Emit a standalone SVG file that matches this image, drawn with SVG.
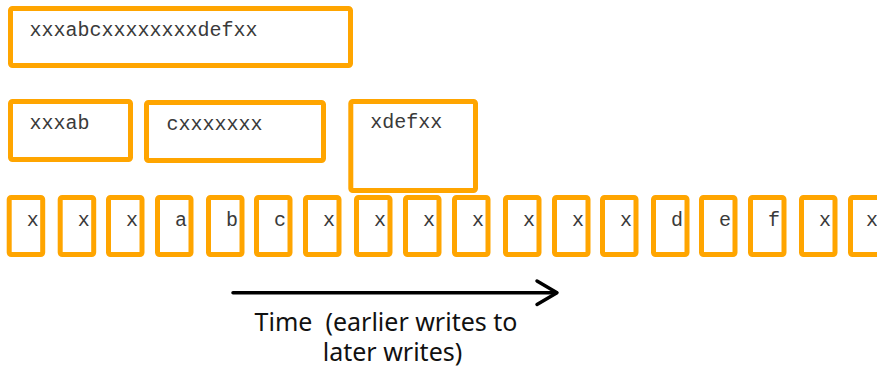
<svg xmlns="http://www.w3.org/2000/svg" width="877" height="366" viewBox="0 0 877 366">
  <style>
    .box { fill: #ffffff; stroke: #ffa500; stroke-width: 5; }
    .mono { font-family: "Liberation Mono", "Courier New", monospace; font-size: 20px; fill: #3a3a3a; }
    .cap { font-family: "Noto Sans", "Open Sans", sans-serif; font-size: 25px; fill: #111111; text-anchor: middle; white-space: pre; }
    .arrow { fill: none; stroke: #000000; stroke-width: 3.5; stroke-linecap: round; stroke-linejoin: round; }
  </style>
  <rect width="877" height="366" fill="#ffffff"/>

  <!-- whole write -->
  <g id="write-all">
    <rect class="box" x="10.5" y="8.5" width="340" height="57" rx="2"/>
    <text class="mono" x="29.5" y="36">xxxabcxxxxxxxxdefxx</text>
  </g>

  <!-- partial writes -->
  <g id="write-1">
    <rect class="box" x="10.5" y="101.5" width="120" height="58" rx="2"/>
    <text class="mono" x="29.5" y="129">xxxab</text>
  </g>
  <g id="write-2">
    <rect class="box" x="146.5" y="102.5" width="177" height="58" rx="2"/>
    <text class="mono" x="166.5" y="130">cxxxxxxx</text>
  </g>
  <g id="write-3">
    <rect class="box" x="350.8" y="101.5" width="124.7" height="89" rx="2"/>
    <text class="mono" x="370.2" y="128">xdefxx</text>
  </g>

  <!-- single-byte writes -->
  <g id="b1"><rect class="box" x="9.2" y="197.5" width="33.5" height="57" rx="2"/><text class="mono" x="26.7" y="225.7">x</text></g>
  <g id="b2"><rect class="box" x="60.2" y="197.5" width="33.5" height="57" rx="2"/><text class="mono" x="77.7" y="225.7">x</text></g>
  <g id="b3"><rect class="box" x="108.5" y="197.5" width="33.5" height="57" rx="2"/><text class="mono" x="126" y="225.7">x</text></g>
  <g id="b4"><rect class="box" x="157.5" y="197.5" width="33.5" height="57" rx="2"/><text class="mono" x="175" y="225.7">a</text></g>
  <g id="b5"><rect class="box" x="208.5" y="197.5" width="33.5" height="57" rx="2"/><text class="mono" x="226" y="225.7">b</text></g>
  <g id="b6"><rect class="box" x="256.5" y="197.5" width="33.5" height="57" rx="2"/><text class="mono" x="274" y="225.7">c</text></g>
  <g id="b7"><rect class="box" x="305.5" y="197.5" width="33.5" height="57" rx="2"/><text class="mono" x="323" y="225.7">x</text></g>
  <g id="b8"><rect class="box" x="356.5" y="197.5" width="33.5" height="57" rx="2"/><text class="mono" x="374" y="225.7">x</text></g>
  <g id="b9"><rect class="box" x="405.5" y="197.5" width="33.5" height="57" rx="2"/><text class="mono" x="423" y="225.7">x</text></g>
  <g id="b10"><rect class="box" x="454.5" y="197.5" width="33.5" height="57" rx="2"/><text class="mono" x="472" y="225.7">x</text></g>
  <g id="b11"><rect class="box" x="505.5" y="197.5" width="33.5" height="57" rx="2"/><text class="mono" x="523" y="225.7">x</text></g>
  <g id="b12"><rect class="box" x="554.5" y="197.5" width="33.5" height="57" rx="2"/><text class="mono" x="572" y="225.7">x</text></g>
  <g id="b13"><rect class="box" x="602.5" y="197.5" width="33.5" height="57" rx="2"/><text class="mono" x="620" y="225.7">x</text></g>
  <g id="b14"><rect class="box" x="653.5" y="197.5" width="33.5" height="57" rx="2"/><text class="mono" x="671" y="225.7">d</text></g>
  <g id="b15"><rect class="box" x="701.5" y="197.5" width="33.5" height="57" rx="2"/><text class="mono" x="719" y="225.7">e</text></g>
  <g id="b16"><rect class="box" x="750.5" y="197.5" width="33.5" height="57" rx="2"/><text class="mono" x="768" y="225.7">f</text></g>
  <g id="b17"><rect class="box" x="801.5" y="197.5" width="33.5" height="57" rx="2"/><text class="mono" x="819" y="225.7">x</text></g>
  <g id="b18"><rect class="box" x="850.5" y="197.5" width="33.5" height="57" rx="2"/><text class="mono" x="866" y="225.7">x</text></g>

  <!-- time axis -->
  <g id="connectors">
    <path class="arrow" d="M233,292.7 H556"/>
    <path class="arrow" d="M537,281 L557,292.7 L537,304.4"/>
  </g>
  <g id="time-label">
    <text class="cap" x="386" y="330.7" xml:space="preserve">Time  (earlier writes to</text>
    <text class="cap" x="392.5" y="360.5">later writes)</text>
  </g>
</svg>
